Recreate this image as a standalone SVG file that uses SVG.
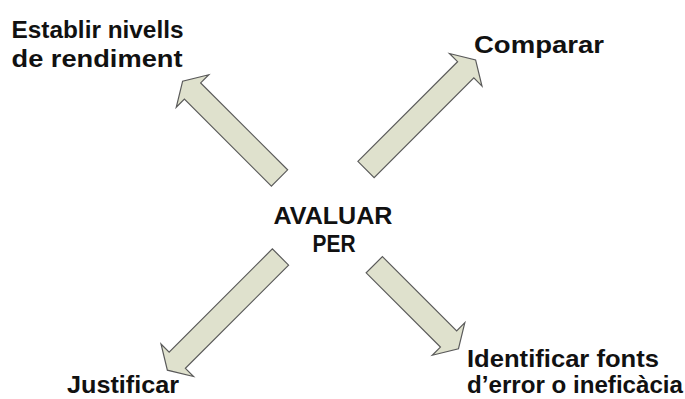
<svg xmlns="http://www.w3.org/2000/svg" width="685" height="399" viewBox="0 0 685 399">
<style>
.lbl{font-family:"Liberation Sans",Arial,sans-serif;font-weight:bold;font-size:24px;fill:#111}
.arr{fill:#dfe1cd;stroke:#5a5a5a;stroke-width:1.2;stroke-linejoin:miter}
</style>
<rect width="685" height="399" fill="#ffffff"/>
<g id="connectors">
<polygon class="arr" transform="translate(279.5,178) rotate(-135)" points="0,-11.5 123,-11.5 123,-23 137,0 123,23 123,11.5 0,11.5"/>
<polygon class="arr" transform="translate(366,169.5) rotate(-45)" points="0,-11.5 141,-11.5 141,-23 155,0 141,23 141,11.5 0,11.5"/>
<polygon class="arr" transform="translate(280.5,257) rotate(135)" points="0,-11.5 146,-11.5 146,-23 160,0 146,23 146,11.5 0,11.5"/>
<polygon class="arr" transform="translate(374.3,264.7) rotate(45)" points="0,-11.5 105,-11.5 105,-23 119,0 105,23 105,11.5 0,11.5"/>
</g>
<g id="center">
<text class="lbl" x="333" y="223.5" text-anchor="middle" textLength="119" lengthAdjust="spacingAndGlyphs">AVALUAR</text>
<text class="lbl" x="334" y="251.5" text-anchor="middle" textLength="43" lengthAdjust="spacingAndGlyphs">PER</text>
</g>
<g id="establir">
<text class="lbl" x="11.5" y="38" textLength="172" lengthAdjust="spacingAndGlyphs">Establir nivells</text>
<text class="lbl" x="11.5" y="67" textLength="171" lengthAdjust="spacingAndGlyphs">de rendiment</text>
</g>
<g id="comparar">
<text class="lbl" x="474" y="52.5" textLength="130" lengthAdjust="spacingAndGlyphs">Comparar</text>
</g>
<g id="justificar">
<text class="lbl" x="67" y="393" textLength="112" lengthAdjust="spacingAndGlyphs">Justificar</text>
</g>
<g id="identificar">
<text class="lbl" x="467" y="367" textLength="192" lengthAdjust="spacingAndGlyphs">Identificar fonts</text>
<text class="lbl" x="467" y="392.5" textLength="216" lengthAdjust="spacingAndGlyphs">d’error o ineficàcia</text>
</g>
</svg>
